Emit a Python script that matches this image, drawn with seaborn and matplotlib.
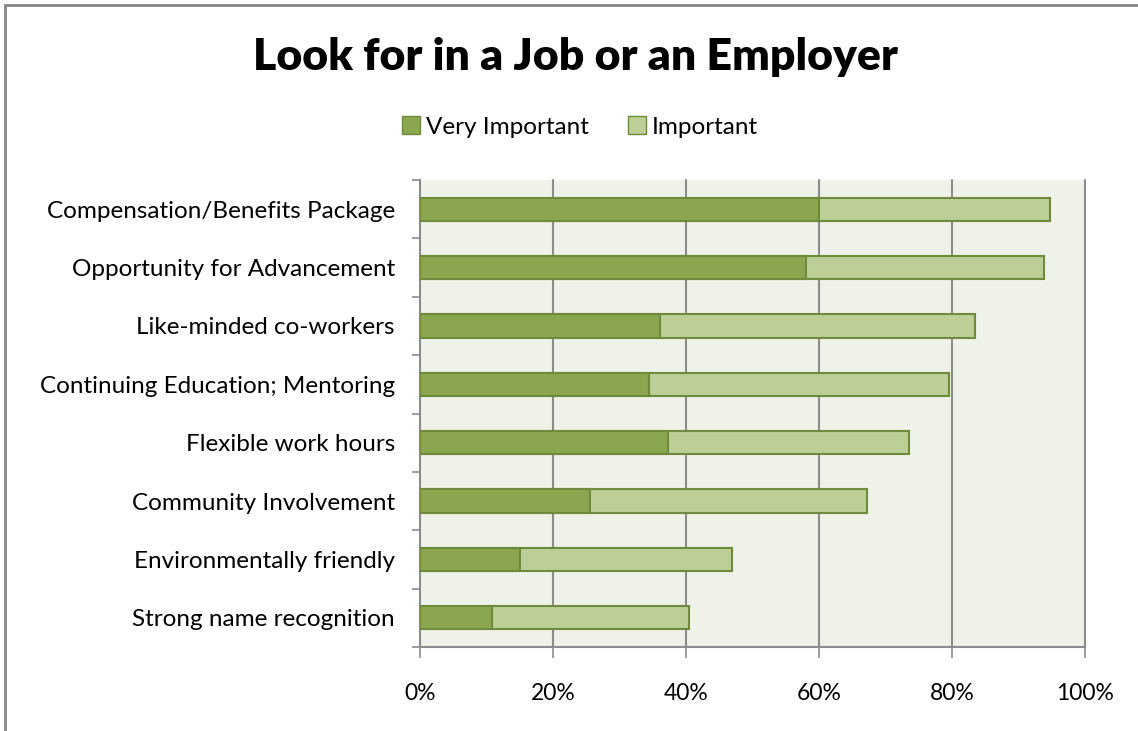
import matplotlib
matplotlib.use("Agg")
import matplotlib.pyplot as plt
import matplotlib.patches as mpatches
from matplotlib.ticker import FixedLocator, PercentFormatter
import seaborn as sns
import pandas as pd
import numpy as np

# 데이터 (그림에서 읽은 값, 비율)
categories = ["Compensation/Benefits Package", "Opportunity for Advancement",
              "Like-minded co-workers", "Continuing Education; Mentoring",
              "Flexible work hours", "Community Involvement",
              "Environmentally friendly", "Strong name recognition"]
very_important = [0.600, 0.580, 0.361, 0.345, 0.373, 0.256, 0.151, 0.109]
important = [0.348, 0.359, 0.473, 0.451, 0.363, 0.416, 0.318, 0.296]

df = pd.DataFrame({"category": categories,
                   "very": very_important,
                   "imp": important})
df["total"] = df["very"] + df["imp"]

sns.set_theme(style="white")
plt.rcParams["font.family"] = ["Lato", "DejaVu Sans"]
plt.rcParams["text.color"] = "black"

c_dark = "#8AA64E"
c_light = "#BBCF97"
c_edge = "#6F8A3A"
c_axis = "#8C8C8C"

fig = plt.figure(figsize=(11.38, 7.31), dpi=100)
ax = fig.add_axes([420/1138, 1 - 647/731, (1085-420)/1138, (647-180)/731])
ax.set_facecolor("#EFF2E9")

# 누적 막대: 전체(Important) 먼저, 그 위에 Very Important
sns.barplot(data=df, x="total", y="category", orient="h", width=0.4, saturation=1,
            color=c_light, edgecolor=c_edge, linewidth=1.5, ax=ax, zorder=3)
sns.barplot(data=df, x="very", y="category", orient="h", width=0.4, saturation=1,
            color=c_dark, edgecolor=c_edge, linewidth=1.5, ax=ax, zorder=4)

ax.set_xlim(0, 1)
ax.set_ylim(len(categories) - 0.5, -0.5)
ax.set_xlabel("")
ax.set_ylabel("")

ax.xaxis.set_major_locator(FixedLocator([0, 0.2, 0.4, 0.6, 0.8, 1.0]))
ax.xaxis.set_major_formatter(PercentFormatter(1.0, decimals=0))
ax.yaxis.set_minor_locator(FixedLocator(np.arange(-0.5, len(categories), 1)))
ax.tick_params(axis="y", which="major", length=0, pad=18, labelsize=17.5, labelcolor="black")
ax.tick_params(axis="y", which="minor", left=True, length=6, width=1.2, color=c_axis)
ax.tick_params(axis="x", which="major", bottom=True, length=8, width=1.2, color=c_axis,
               pad=18, labelsize=16.5, labelcolor="black")

for x in [0.2, 0.4, 0.6, 0.8, 1.0]:
    ax.axvline(x, color=c_axis, linewidth=1.5, zorder=1, clip_on=False)

for side in ["top", "right"]:
    ax.spines[side].set_visible(False)
for side in ["left", "bottom"]:
    ax.spines[side].set_color(c_axis)
    ax.spines[side].set_linewidth(1.5)

fig.text(575/1138, 1 - 57/731, "Look for in a Job or an Employer",
         ha="center", va="center", fontsize=32, fontweight="heavy", color="black")

handles = [mpatches.Patch(facecolor=c_dark, edgecolor=c_edge, label="Very Important"),
           mpatches.Patch(facecolor=c_light, edgecolor=c_edge, label="Important")]
fig.legend(handles=handles, loc="center", bbox_to_anchor=(580/1138, 1 - 127/731),
           ncol=2, frameon=False, fontsize=17.5, handlelength=0.75, handleheight=0.75,
           handletextpad=0.25, columnspacing=1.6, labelcolor="black")

# 차트 테두리
fig.patches.append(mpatches.Rectangle((4.5/1138, -0.1), 1.2, 1 - 4.5/731 + 0.1,
                                      transform=fig.transFigure, fill=False,
                                      edgecolor="#868686", linewidth=2))

fig.savefig("out.png", dpi=100)
